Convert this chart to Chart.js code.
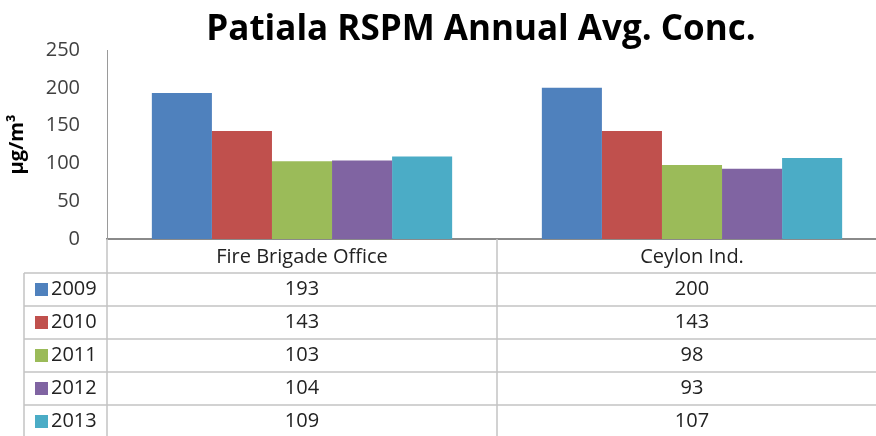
<!DOCTYPE html>
<html lang="en">
<head>
    <meta charset="UTF-8">
    <title>Patiala RSPM Annual Avg. Conc.</title>
    <script src="https://cdn.jsdelivr.net/npm/chart.js"></script>
    <style>
        html, body {
            margin: 0;
            padding: 0;
            background: white;
            overflow: hidden;
        }
        .chart-box {
            position: relative;
            width: 887px;
            height: 436px;
        }
    </style>
</head>
<body>
    <div class="chart-box">
        <canvas id="rspmChart"></canvas>
    </div>

    <script>
        const titleText = 'Patiala RSPM Annual Avg. Conc.';
        const yTitle = 'µg/m³';
        const sites = ['Fire Brigade Office', 'Ceylon Ind.'];
        const years = ['2009', '2010', '2011', '2012', '2013'];
        const v2009 = [193, 200];
        const v2010 = [143, 143];
        const v2011 = [103, 98];
        const v2012 = [104, 93];
        const v2013 = [109, 107];
        const yTicks = [0, 50, 100, 150, 200, 250];
        const colors = ['#4F81BD', '#C0504D', '#9BBB59', '#8064A2', '#4BACC6'];

        const series = [v2009, v2010, v2011, v2012, v2013];
        const font = "'Open Sans', sans-serif";

        // title + data table under the plot, laid out from the chart's own scales
        const tablePlugin = {
            id: 'dataTable',
            afterDraw(chart) {
                const ctx = chart.ctx;
                const ca = chart.chartArea;
                const xs = chart.scales.x;
                const mid = (xs.getPixelForValue(0) + xs.getPixelForValue(1)) / 2;
                const headH = 34, rowH = 33, legLeft = 24;
                const bottom = chart.height;
                const rowTop = ca.bottom + headH;

                ctx.save();
                // title
                ctx.fillStyle = '#000';
                ctx.font = "bold 35px " + font;
                ctx.textAlign = 'center';
                ctx.textBaseline = 'middle';
                ctx.fillText(titleText, 481, 30);

                // grid lines
                ctx.strokeStyle = '#c4c4c4';
                ctx.lineWidth = 1.5;
                ctx.beginPath();
                ctx.moveTo(ca.left, ca.bottom); ctx.lineTo(ca.left, bottom);
                ctx.moveTo(mid, ca.bottom); ctx.lineTo(mid, bottom);
                ctx.moveTo(legLeft, rowTop); ctx.lineTo(legLeft, bottom);
                for (let i = 0; i < years.length; i++) {
                    const y = rowTop + i * rowH;
                    ctx.moveTo(legLeft, y); ctx.lineTo(ca.right, y);
                }
                ctx.stroke();

                // category headers
                ctx.fillStyle = '#222';
                ctx.font = "20px " + font;
                sites.forEach((s, i) => {
                    ctx.fillText(s, xs.getPixelForValue(i), ca.bottom + headH / 2 + 1);
                });

                // rows
                years.forEach((yr, r) => {
                    const cy = rowTop + r * rowH + rowH / 2;
                    ctx.fillStyle = colors[r];
                    ctx.fillRect(35, cy - 6.5, 13, 13);
                    ctx.fillStyle = '#222';
                    ctx.textAlign = 'left';
                    ctx.fillText(yr, 51, cy);
                    ctx.textAlign = 'center';
                    series[r].forEach((v, c) => {
                        ctx.fillText(String(v), xs.getPixelForValue(c), cy);
                    });
                });
                ctx.restore();
            }
        };

        new Chart(document.getElementById('rspmChart'), {
            type: 'bar',
            data: {
                labels: sites,
                datasets: years.map((yr, i) => ({
                    label: yr,
                    data: series[i],
                    backgroundColor: colors[i],
                    borderWidth: 0,
                    barPercentage: 1.0,
                    categoryPercentage: 0.77
                }))
            },
            options: {
                responsive: true,
                maintainAspectRatio: false,
                animation: false,
                layout: { padding: { top: 50, bottom: 189, left: 0, right: 0 } },
                plugins: {
                    legend: { display: false },
                    title: { display: false },
                    tooltip: { enabled: false }
                },
                scales: {
                    x: {
                        ticks: { display: false },
                        grid: { display: false },
                        border: { display: true, color: '#8a8a8a', width: 2 }
                    },
                    y: {
                        min: 0,
                        max: 250,
                        afterBuildTicks: (scale) => { scale.ticks = yTicks.map(v => ({ value: v })); },
                        afterFit: (scale) => { scale.width = 107; },
                        ticks: {
                            color: '#404040',
                            font: { family: font, size: 20 },
                            padding: 19
                        },
                        grid: { display: false },
                        border: { display: true, color: '#9a9a9a', width: 1 },
                        title: {
                            display: true,
                            text: yTitle,
                            color: '#000',
                            font: { family: font, size: 20, weight: 'bold' },
                            padding: { top: 5, bottom: 0 }
                        }
                    }
                }
            },
            plugins: [tablePlugin]
        });
    </script>
</body>
</html>
